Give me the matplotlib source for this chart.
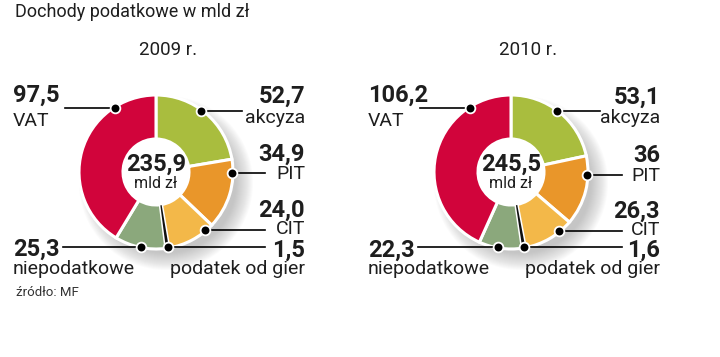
import matplotlib
matplotlib.use("Agg")
import matplotlib.pyplot as plt
from matplotlib.patches import Circle
import numpy as np

plt.rcParams['font.family'] = ['Roboto', 'DejaVu Sans']

W, H = 720, 357

title = "Dochody podatkowe w mld zł"
source = "źródło: MF"
years = ["2009 r.", "2010 r."]
totals = ["235,9", "245,5"]

# order: clockwise from 12 o'clock
names = ["akcyza", "PIT", "CIT", "podatek od gier", "niepodatkowe", "VAT"]
colors = ["#a9bd3e", "#e9962a", "#f3b849", "#111111", "#8ba87c", "#d1043b"]
vals_2009 = [52.7, 34.9, 24.0, 1.5, 25.3, 97.5]
vals_2010 = [53.1, 36.0, 26.3, 1.6, 22.3, 106.2]
txt_2009 = ["52,7", "34,9", "24,0", "1,5", "25,3", "97,5"]
txt_2010 = ["53,1", "36", "26,3", "1,6", "22,3", "106,2"]

TXT = "#1e1e1e"

# label text offsets from the leader line (value, name), pixels downwards
offs = [(-14, 7), (-19, 1), (-20, -1), (3, 22), (3, 22), (-13, 13)]


def Y(py):
    return H - py


fig = plt.figure(figsize=(7.2, 3.57), dpi=100)
ax = fig.add_axes([0, 0, 1, 1])

charts = [
    dict(cx=156, cy=172, xl=13, xr=305, vals=vals_2009, txt=txt_2009,
         year=years[0], yx=168, total=totals[0],
         # dot angle (deg clockwise from top), line end x
         dots=[(36, 242), (91, 265), (140, 265), (171, 265), (191, 63), (327, 65)]),
    dict(cx=511, cy=172, xl=368, xr=660, vals=vals_2010, txt=txt_2010,
         year=years[1], yx=528, total=totals[1],
         dots=[(37, 600), (92, 622), (141, 622), (170.5, 622), (190, 418), (327, 420)]),
]

R = 77
R_in = 33

for c in charts:
    cx, cy = c["cx"], c["cy"]
    # soft shadow to the lower right
    for i in range(18):
        ax.add_patch(Circle((cx + 10, Y(cy + 11)), R + 10 - i * 1.0,
                            color="#8a8a8a", alpha=0.03, lw=0, zorder=1))
    wedges, _ = ax.pie(c["vals"], colors=colors, startangle=90, counterclock=False,
                       center=(cx, Y(cy)), radius=R, frame=True,
                       wedgeprops=dict(width=R - R_in, edgecolor="white", linewidth=2.2))
    for w in wedges:
        w.set_zorder(2)
    wedges[3].set_linewidth(0)
    wedges[3].set_zorder(3)
    ax.add_patch(Circle((cx, Y(cy)), R_in, color="white", zorder=3))

    ax.text(cx, Y(cy - 8), c["total"], ha="center", va="center",
            fontsize=17, fontweight="bold", color=TXT, zorder=5)
    ax.text(cx, Y(cy + 12), "mld zł", ha="center", va="center",
            fontsize=11.5, color=TXT, zorder=5)
    ax.text(c["yx"], Y(50), c["year"], ha="center", va="center",
            fontsize=13.5, color=TXT)

    for k, (ang, xend) in enumerate(c["dots"]):
        a = np.deg2rad(ang)
        dx = cx + (R - 1) * np.sin(a)
        dy = cy - (R - 1) * np.cos(a)
        ax.plot([dx, xend], [Y(dy), Y(dy)], color="black", lw=1.2, zorder=4)
        ax.plot(dx, Y(dy), "o", ms=7, mfc="black", mec="white", mew=1.3, zorder=6)
        left = xend < cx
        tx = c["xl"] if left else c["xr"]
        ha = "left" if left else "right"
        ov, on = offs[k]
        ax.text(tx, Y(dy + ov), c["txt"][k], ha=ha, va="center",
                fontsize=17, fontweight="bold", color=TXT)
        ax.text(tx, Y(dy + on), names[k], ha=ha, va="center",
                fontsize=14, color=TXT)

ax.text(15, Y(12), title, ha="left", va="center", fontsize=13, color=TXT)
ax.text(16, Y(293), source, ha="left", va="center", fontsize=9.5, color="#333333")

ax.set_xlim(0, W)
ax.set_ylim(0, H)
ax.set_aspect("equal")
ax.axis("off")

fig.savefig("out.png", dpi=100, facecolor="white")
